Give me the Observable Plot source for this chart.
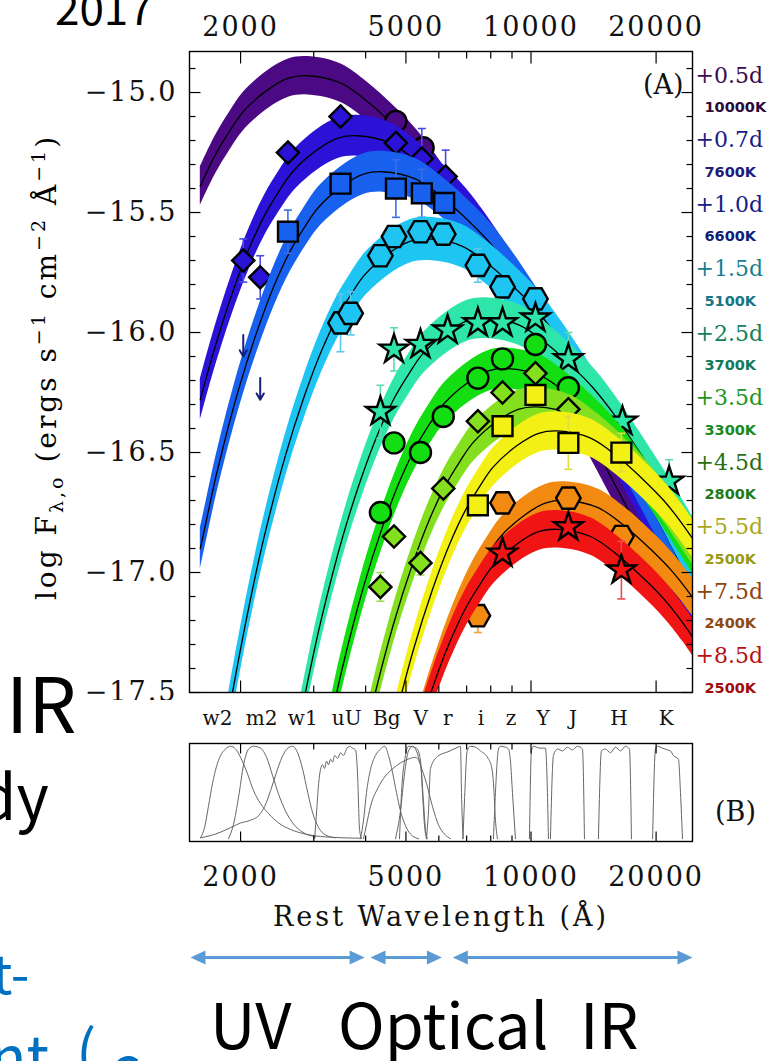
<!DOCTYPE html>
<html>
<head>
<meta charset="utf-8">
<script src="https://cdn.jsdelivr.net/npm/d3@7"></script>
<script src="https://cdn.jsdelivr.net/npm/@observablehq/plot@0.6"></script>
<style>
html,body{margin:0;padding:0;background:#fff;}
body{width:773px;height:1061px;position:relative;overflow:hidden;}
.pane{position:absolute;left:0;}
#panelA{top:0;} #panelB{top:700px;} #panelC{top:942px;}
#deco{position:absolute;left:0;top:0;}
</style>
</head>
<body>
<div id="panelA" class="pane"></div>
<div id="panelB" class="pane"></div>
<div id="panelC" class="pane"></div>
<svg id="deco" width="773" height="1061">
  <text x="55" y="25" font-family="Noto Sans CJK JP" font-size="44" fill="#000">2017</text>
  <text x="6" y="733" font-family="Noto Sans CJK JP" font-size="76" fill="#000">IR</text>
  <text x="-22" y="820" font-family="Noto Sans CJK JP" font-size="62" fill="#000">dy</text>
  <text x="-8" y="994" font-family="Noto Sans CJK JP" font-size="54" fill="#0070c0">t-</text>
  <text x="-10" y="1080" font-family="Noto Sans CJK JP" font-size="60" fill="#0070c0">nt</text>
  <text x="76" y="1074" font-family="Noto Sans CJK JP" font-size="60" fill="#0070c0">(</text>
  <text x="110" y="1090" font-family="Noto Sans CJK JP" font-size="60" fill="#0070c0">c</text>
  <text x="210" y="1049" font-family="Noto Sans CJK JP" font-size="63" fill="#000">UV</text>
  <text x="338" y="1049" font-family="Noto Sans CJK JP" font-size="63" fill="#000">Optical</text>
  <text x="580" y="1049" font-family="Noto Sans CJK JP" font-size="63" fill="#000">IR</text>
  <text transform="translate(56,367) rotate(-90)" text-anchor="middle" font-family="DejaVu Serif" font-size="28" letter-spacing="3" fill="#000">log F<tspan dy="7" font-size="19">λ,o</tspan><tspan dy="-7"> (ergs s</tspan><tspan dy="-11" font-size="19">−1</tspan><tspan dy="11"> cm</tspan><tspan dy="-11" font-size="19">−2</tspan><tspan dy="11"> Å</tspan><tspan dy="-11" font-size="19">−1</tspan><tspan dy="11">)</tspan></text>
</svg>
<script>
// ---------------- scales ----------------
const X_DOMAIN = [1507, 24470];
const Y_DOMAIN = [-17.5, -14.829];

// ---------------- epochs ----------------
const epochs = ["+0.5d","+0.7d","+1.0d","+1.5d","+2.5d","+3.5d","+4.5d","+5.5d","+7.5d","+8.5d"];
const temps  = ["10000K","7600K","6600K","5100K","3700K","3300K","2800K","2500K","2400K","2500K"];
const bandColor = ["#4b0a84","#2a12d6","#1860ee","#1ec4f2","#2ee6aa","#12de12","#84e01e","#f2f014","#f28a12","#f01414"];
const errColor  = ["#6a3aa0","#4a4ae6","#3a70e6","#5ac8ea","#5cdcb0","#5ad85a","#9ada50","#dede40","#f0a040","#f04848"];
const epochLabelColor = ["#3b0b4f","#1b1b85","#12208a","#16808f","#138060","#1e961e","#2a6e14","#a8a820","#8a4610","#b81010"];
const tempLabelColor  = ["#2b0b3b","#1b1b7a","#0f1f75","#157585","#127a5a","#1a8a1a","#1f7a18","#999914","#8f4a10","#a00c0c"];
const bandHalfWidth = [0.08,0.085,0.085,0.09,0.085,0.085,0.08,0.08,0.078,0.078];

// ---------------- fitted curves ----------------
const fitLam = [
  [1600,1739,1884,2029,2318,2608,2898,3478,4057,4637,5216,5796,7245,8694,10143,11592,14490,17388,20286,23184,26082],
  [1600,1716,1907,2097,2288,2478,2669,3050,3432,3813,4576,5338,6101,6863,7626,9533,11439,13346,15252,19065,22878,26691],
  [1600,1647,1756,1976,2196,2415,2635,2854,3074,3513,3952,4391,5269,6147,7026,7904,8782,10978,13173,15369,17564,21955,26346],
  [1705,1847,1989,2131,2273,2557,2841,3125,3409,3693,3977,4546,5114,5682,6818,7955,9091,10228,11364,14205,17046,19887,22728,28410],
  [2545,2741,2937,3133,3524,3916,4308,4699,5091,5482,6266,7049,7832,9398,10965,12531,14098,15664,19580,23496,27412],
  [2854,3074,3293,3513,3952,4391,4830,5269,5708,6147,7026,7904,8782,10538,12295,14051,15808,17564,21955,26346],
  [3364,3623,3881,4140,4658,5175,5693,6210,6728,7245,8280,9315,10350,12420,14490,16560,18630,20700,25875],
  [3767,4057,4347,4637,5216,5796,6376,6955,7535,8114,9274,10433,11592,13910,16229,18547,20866,23184,28980],
  [4226,4528,4830,5434,6038,6641,7245,7849,8453,9660,10868,12075,14490,16905,19320,21735,24150,30188],
  [4347,4637,5216,5796,6376,6955,7535,8114,9274,10433,11592,13910,16229,18547,20866,23184,28980]
];
const fitLogF = [
  [-15.39,-15.26,-15.16,-15.08,-14.99,-14.94,-14.93,-14.96,-15.04,-15.13,-15.22,-15.32,-15.57,-15.79,-15.99,-16.18,-16.50,-16.76,-16.99,-17.12,-17.25],
  [-16.28,-16.09,-15.84,-15.65,-15.51,-15.41,-15.33,-15.24,-15.19,-15.18,-15.21,-15.29,-15.38,-15.47,-15.57,-15.82,-16.04,-16.24,-16.43,-16.75,-17.03,-17.27],
  [-16.90,-16.80,-16.58,-16.24,-15.99,-15.80,-15.66,-15.56,-15.48,-15.39,-15.34,-15.33,-15.36,-15.44,-15.53,-15.62,-15.72,-15.97,-16.19,-16.39,-16.58,-16.90,-17.18],
  [-18.03,-17.65,-17.34,-17.08,-16.86,-16.52,-16.27,-16.08,-15.94,-15.84,-15.76,-15.67,-15.62,-15.61,-15.64,-15.72,-15.81,-15.90,-16.00,-16.25,-16.47,-16.67,-16.86,-17.18],
  [-17.98,-17.67,-17.41,-17.19,-16.85,-16.60,-16.41,-16.27,-16.17,-16.09,-16.00,-15.95,-15.94,-15.97,-16.05,-16.14,-16.23,-16.33,-16.58,-16.80,-17.00],
  [-18.19,-17.88,-17.62,-17.40,-17.06,-16.81,-16.62,-16.48,-16.38,-16.30,-16.21,-16.16,-16.15,-16.18,-16.26,-16.35,-16.44,-16.54,-16.79,-17.01],
  [-18.35,-18.04,-17.78,-17.56,-17.22,-16.97,-16.78,-16.64,-16.54,-16.46,-16.37,-16.32,-16.31,-16.34,-16.42,-16.51,-16.60,-16.70,-16.95],
  [-18.45,-18.14,-17.88,-17.66,-17.32,-17.07,-16.88,-16.74,-16.64,-16.56,-16.47,-16.42,-16.41,-16.44,-16.52,-16.61,-16.70,-16.80,-17.05],
  [-18.43,-18.17,-17.95,-17.61,-17.36,-17.17,-17.03,-16.93,-16.85,-16.76,-16.71,-16.70,-16.73,-16.81,-16.90,-16.99,-17.09,-17.34],
  [-18.29,-18.07,-17.73,-17.48,-17.29,-17.15,-17.05,-16.97,-16.88,-16.83,-16.82,-16.85,-16.93,-17.02,-17.11,-17.21,-17.46]
];

// ---------------- photometry ----------------
const obsEpoch = [0,0, 1,1,1,1,1,1,1, 2,2,2,2,2, 3,3,3,3,3,3,3,3,3, 4,4,4,4,4,4,4,4,4,4, 5,5,5,5,5,5,5,5, 6,6,6,6,6,6,6,6, 7,7,7,7,7, 8,8,8,8, 9,9,9];
const obsLam = [4730,5500,
  2030,2230,2600,3480,4730,5460,6230,
  2600,3480,4730,5460,6180,
  3480,3680,4340,4680,5420,6150,7450,8540,10250,
  4340,4680,5420,6300,7450,8540,10250,12300,16600,21500,
  4340,4680,5420,6150,7450,8540,10250,12300,
  4340,4680,5420,6150,7450,8540,10250,12300,
  7450,8540,10250,12300,16500,
  7450,8540,12300,16500,
  8540,12300,16500];
const obsLogF = [-15.12,-15.23,
  -15.70,-15.77,-15.25,-15.10,-15.21,-15.275,-15.35,
  -15.58,-15.38,-15.40,-15.42,-15.46,
  -15.96,-15.92,-15.68,-15.60,-15.58,-15.59,-15.72,-15.81,-15.86,
  -16.33,-16.07,-16.05,-15.99,-15.96,-15.96,-15.94,-16.11,-16.37,-16.62,
  -16.75,-16.46,-16.50,-16.35,-16.19,-16.11,-16.05,-16.23,
  -17.06,-16.85,-16.96,-16.65,-16.37,-16.25,-16.17,-16.32,
  -16.72,-16.39,-16.26,-16.46,-16.50,
  -17.18,-16.71,-16.69,-16.85,
  -16.92,-16.81,-16.99];
const obsErr = [0,0,
  0.09,0.09,0,0,0,0.125,0.11,
  0.09,0,0.12,0.10,0,
  0.12,0.09,0,0,0,0,0.07,0,0,
  0.11,0.09,0,0,0.05,0,0,0.11,0,0.09,
  0,0,0,0,0,0,0,0,
  0.06,0,0.05,0,0,0,0,0,
  0,0,0,0.11,0.08,
  0.07,0,0,0,
  0,0,0.12];
// upper limits (+1.0d)
const ulLam = [2030, 2230];
const ulTop = [-16.01, -16.19];
const ulBottom = [-16.10, -16.28];

// ---------------- axes ----------------
const xLabelTicks = [2000, 5000, 10000, 20000];
const xMinorTicks = [3000, 4000, 6000, 7000, 8000, 9000];
const yLabelTicks = [-15.0, -15.5, -16.0, -16.5, -17.0, -17.5];

// ---------------- filters (panel B) ----------------
const filterNames = ["w2","m2","w1","uU","Bg","V","r","i","z","Y","J","H","K"];
const filterLabelLam = [1760, 2246, 2822, 3601, 4496, 5429, 6306, 7577, 8946, 10686, 12620, 16288, 21140];
const filtW2 = [[1602,0.01],[1638,0.12],[1674,0.35],[1712,0.6],[1750,0.78],[1790,0.9],[1840,0.97],[1892,1.0],[1945,0.97],[2000,0.88],[2079,0.7],[2149,0.52],[2234,0.38],[2338,0.27],[2470,0.17],[2638,0.1],[2867,0.05],[3203,0.02],[3888,0.005]];
const filtM2 = [[1870,0.0],[1922,0.15],[1978,0.45],[2034,0.8],[2091,0.97],[2149,1.0],[2234,0.98],[2310,0.88],[2389,0.68],[2470,0.48],[2566,0.3],[2681,0.16],[2822,0.07],[3031,0.02]];
const filtW1 = [[1602,0.01],[1741,0.05],[1892,0.12],[2000,0.17],[2114,0.2],[2211,0.25],[2286,0.35],[2362,0.52],[2441,0.72],[2516,0.88],[2597,0.98],[2669,1.0],[2743,0.93],[2822,0.75],[2901,0.5],[2982,0.28],[3083,0.12],[3203,0.04],[3385,0.01]];
const filtU = [[3015,0],[3049,0.3],[3083,0.6],[3115,0.75],[3150,0.8],[3185,0.76],[3220,0.84],[3256,0.8],[3293,0.86],[3330,0.83],[3367,0.9],[3424,0.87],[3480,0.93],[3538,0.9],[3598,0.97],[3658,1.0],[3719,0.98],[3782,0.96],[3824,0.7],[3867,0.1],[3910,0]];
const filtB = [[3888,0],[3953,0.2],[4019,0.5],[4109,0.75],[4224,0.9],[4343,0.97],[4440,1.0],[4540,0.9],[4641,0.72],[4745,0.5],[4851,0.3],[4988,0.14],[5128,0.05],[5360,0]];
const filtG = [[3953,0],[4019,0.15],[4109,0.35],[4283,0.55],[4465,0.68],[4655,0.76],[4851,0.82],[5057,0.86],[5272,0.88],[5420,0.8],[5511,0.4],[5572,0.1],[5634,0]];
const filtVs = [[4825,0],[4880,0.5],[4988,0.9],[5071,1.0],[5300,0.98],[5420,0.85],[5480,0.5],[5541,0.15],[5603,0]];
const filtV = [[4719,0],[4851,0.3],[4960,0.7],[5071,0.95],[5186,1.0],[5300,0.95],[5420,0.8],[5603,0.6],[5792,0.35],[5989,0.15],[6191,0.05],[6400,0]];
const filtR = [[5603,0],[5666,0.3],[5729,0.76],[5956,0.89],[6306,0.94],[6673,0.99],[6765,1.0],[6803,0.5],[6860,0]];
const filtI = [[6860,0],[6930,0.5],[7019,0.95],[7150,1.0],[7351,0.99],[7557,0.95],[7881,0.87],[8032,0.78],[8122,0.6],[8212,0.2],[8304,0]];
const filtZ = [[8122,0],[8212,0.5],[8350,0.97],[8443,1.0],[8680,0.99],[8826,0.97],[8924,0.84],[9023,0.5],[9174,0]];
const filtY = [[9914,0],[10025,0.95],[10137,1.0],[10500,0.98],[10833,0.98],[10953,0.5],[11014,0]];
const filtJ = [[11137,0],[11324,0.9],[11577,0.97],[11903,0.95],[12237,0.99],[12581,0.96],[12935,1.0],[13298,0.97],[13447,0]];
const filtH = [[14530,0],[14775,0.95],[15106,0.97],[15531,0.93],[15967,0.99],[16416,0.95],[16877,1.0],[17254,0.97],[17448,0]];
const filtK = [[19617,0],[19931,0.97],[20153,1.0],[20719,0.98],[21303,0.96],[21659,0.95],[22020,0.9],[22637,0.86],[22893,0.5],[23150,0]];
const filters = [filtW2, filtM2, filtW1, filtU, filtB, filtG, filtVs, filtV, filtR, filtI, filtZ, filtY, filtJ, filtH, filtK];

// wavelength ranges of the slide arrows
const bandRanges = [[1515, 3977], [4109, 6102], [6484, 24470]];

// ---------------- helpers ----------------
const hexSym = {draw(c, s){const R=Math.sqrt(s)*0.66, h=R*Math.sqrt(3)/2;
  c.moveTo(R,0); c.lineTo(R/2,h); c.lineTo(-R/2,h); c.lineTo(-R,0); c.lineTo(-R/2,-h); c.lineTo(R/2,-h); c.closePath();}};
const capSym = {draw(c){c.moveTo(-4,0); c.lineTo(4,0);}};
const seg = (dx, dy) => ({draw(c){c.moveTo(0,0); c.lineTo(dx,dy);}});
const headR = {draw(c){c.moveTo(0,0); c.lineTo(-15,-7); c.lineTo(-15,7); c.closePath();}};
const headL = {draw(c){c.moveTo(0,0); c.lineTo(15,-7); c.lineTo(15,7); c.closePath();}};
const markerSym = ["circle","diamond2","square",hexSym,"star","circle","diamond2","square",hexSym,"star"];
const markerR = [10.5,10,11.2,10.5,9,10.5,10,11.2,10.5,9];
const fmtY = d => d3.format(".1f")(d).replace("-", "\u2212");

function spaceTexts(svg){
  svg.querySelectorAll("text").forEach(t => {
    const s = t.textContent.trim();
    if (/^[\u2212\-\d.]+$/.test(s)) t.setAttribute("letter-spacing", "2");
    else if (s.startsWith("Rest")) t.setAttribute("letter-spacing", "3");
  });
}

// tables
const fitRows = [];
fitLam.forEach((lams, e) => lams.forEach((lam, i) => {
  const m = fitLogF[e][i];
  fitRows.push({e, lam, mid: m, lo: m - bandHalfWidth[e], hi: m + bandHalfWidth[e]});
}));
const obsRows = obsLam.map((lam, i) => ({e: obsEpoch[i], lam, y: obsLogF[i], err: obsErr[i]}));
const ulRows = ulLam.map((lam, i) => ({lam, y1: ulTop[i], y2: ulBottom[i]}));

const sideLabels = [];
epochs.forEach((t, i) => {
  sideLabels.push({text: t, k: 2*i, color: epochLabelColor[i], temp: false});
  sideLabels.push({text: temps[i], k: 2*i+1, color: tempLabelColor[i], temp: true});
});
const sideY = d => -14.929 - d.k * 0.1344;

// ---------------- panel A ----------------
const marksA = [];
for (let e = 0; e < epochs.length; e++) {
  const rows = fitRows.filter(d => d.e === e);
  marksA.push(Plot.areaY(rows, {x: "lam", y1: "lo", y2: "hi", fill: bandColor[e], curve: "catmull-rom", clip: true}));
  marksA.push(Plot.line(rows, {x: "lam", y: "mid", stroke: "#000", strokeWidth: 1.3, curve: "catmull-rom", clip: true}));
  const obs = obsRows.filter(d => d.e === e);
  const eb = obs.filter(d => d.err > 0);
  marksA.push(Plot.ruleX(eb, {x: "lam", y1: d => d.y - d.err, y2: d => d.y + d.err, stroke: errColor[e], strokeWidth: 1.6}));
  marksA.push(Plot.dot(eb, {x: "lam", y: d => d.y - d.err, symbol: capSym, fill: "none", stroke: errColor[e], strokeWidth: 1.6}));
  marksA.push(Plot.dot(eb, {x: "lam", y: d => d.y + d.err, symbol: capSym, fill: "none", stroke: errColor[e], strokeWidth: 1.6}));
  if (e === 2) marksA.push(Plot.arrow(ulRows, {x: "lam", y1: "y1", y2: "y2", stroke: "#14207a", strokeWidth: 2, headLength: 7}));
  marksA.push(Plot.dot(obs, {x: "lam", y: "y", symbol: markerSym[e], r: markerR[e], fill: bandColor[e], stroke: "#000", strokeWidth: 2.4}));
}
const yMinor = d3.range(-17.4, -14.85, 0.1).map(v => Math.round(v*10)/10).filter(v => Math.abs(v*2 - Math.round(v*2)) > 1e-6);
marksA.push(
  Plot.frame({stroke: "#000", strokeWidth: 1.4}),
  Plot.dot(yLabelTicks, {y: d => d, frameAnchor: "left", symbol: seg(11,0), fill: "none", stroke: "#000", strokeWidth: 1.2}),
  Plot.dot(yMinor, {y: d => d, frameAnchor: "left", symbol: seg(6,0), fill: "none", stroke: "#000", strokeWidth: 1.2}),
  Plot.dot(yLabelTicks, {y: d => d, frameAnchor: "right", symbol: seg(-11,0), fill: "none", stroke: "#000", strokeWidth: 1.2}),
  Plot.dot(yMinor, {y: d => d, frameAnchor: "right", symbol: seg(-6,0), fill: "none", stroke: "#000", strokeWidth: 1.2}),
  Plot.dot(xLabelTicks, {x: d => d, frameAnchor: "top", symbol: seg(0,12), fill: "none", stroke: "#000", strokeWidth: 1.2}),
  Plot.dot(xMinorTicks, {x: d => d, frameAnchor: "top", symbol: seg(0,7), fill: "none", stroke: "#000", strokeWidth: 1.2}),
  Plot.dot(xLabelTicks, {x: d => d, frameAnchor: "bottom", symbol: seg(0,-12), fill: "none", stroke: "#000", strokeWidth: 1.2}),
  Plot.dot(xMinorTicks, {x: d => d, frameAnchor: "bottom", symbol: seg(0,-7), fill: "none", stroke: "#000", strokeWidth: 1.2}),
  Plot.axisY({anchor: "left", ticks: yLabelTicks, tickSize: 0, tickPadding: 12, tickFormat: fmtY, label: null, fontSize: 27, fontFamily: "DejaVu Serif", fill: "#111"}),
  Plot.axisX({anchor: "top", ticks: xLabelTicks, tickSize: 0, tickPadding: 16, tickFormat: d => String(d), label: null, fontSize: 27, fontFamily: "DejaVu Serif", fill: "#111"}),
  Plot.text(["(A)"], {frameAnchor: "top-right", dx: -9, dy: 34, textAnchor: "end", lineAnchor: "middle", fontSize: 27, fontFamily: "DejaVu Serif", fill: "#111"}),
  Plot.text(sideLabels.filter(d => !d.temp), {y: sideY, text: "text", fill: "color", frameAnchor: "right", dx: 3, textAnchor: "start", lineAnchor: "middle", fontSize: 22, fontFamily: "DejaVu Serif"}),
  Plot.text(sideLabels.filter(d => d.temp), {y: sideY, text: "text", fill: "color", frameAnchor: "right", dx: 12, textAnchor: "start", lineAnchor: "middle", fontSize: 14.5, fontWeight: "bold", fontFamily: "DejaVu Sans"})
);

const plotA = Plot.plot({
  width: 773, height: 700,
  marginTop: 51, marginLeft: 189, marginRight: 81, marginBottom: 8,
  x: {type: "log", domain: X_DOMAIN, axis: null},
  y: {domain: Y_DOMAIN, axis: null},
  style: {background: "#fff", overflow: "visible"},
  marks: marksA
});
spaceTexts(plotA);
document.getElementById("panelA").appendChild(plotA);

// ---------------- panel B ----------------
const marksB = filters.map(f => Plot.line(f, {x: d => d[0], y: d => d[1], stroke: "#666", strokeWidth: 1, curve: "monotone-x"}));
marksB.push(
  Plot.frame({stroke: "#000", strokeWidth: 1.4}),
  Plot.dot(xLabelTicks, {x: d => d, frameAnchor: "top", symbol: seg(0,10), fill: "none", stroke: "#000", strokeWidth: 1.2}),
  Plot.dot(xMinorTicks, {x: d => d, frameAnchor: "top", symbol: seg(0,6), fill: "none", stroke: "#000", strokeWidth: 1.2}),
  Plot.dot(xLabelTicks, {x: d => d, frameAnchor: "bottom", symbol: seg(0,-10), fill: "none", stroke: "#000", strokeWidth: 1.2}),
  Plot.dot(xMinorTicks, {x: d => d, frameAnchor: "bottom", symbol: seg(0,-6), fill: "none", stroke: "#000", strokeWidth: 1.2}),
  Plot.axisX({anchor: "bottom", ticks: xLabelTicks, tickSize: 0, tickPadding: 25, tickFormat: d => String(d), label: null, fontSize: 27, fontFamily: "DejaVu Serif", fill: "#111"}),
  Plot.text(filterNames, {x: filterLabelLam, text: d => d, frameAnchor: "top", dy: -25, lineAnchor: "middle", fontSize: 20, fontFamily: "DejaVu Serif", fill: "#111"}),
  Plot.text(["Rest Wavelength (Å)"], {frameAnchor: "bottom", dy: 76, lineAnchor: "middle", fontSize: 27, fontFamily: "DejaVu Serif", fill: "#111"}),
  Plot.text(["(B)"], {frameAnchor: "right", dx: 43, dy: 20, textAnchor: "middle", lineAnchor: "middle", fontSize: 27, fontFamily: "DejaVu Serif", fill: "#111"})
);
const plotB = Plot.plot({
  width: 773, height: 240,
  marginTop: 43, marginLeft: 189, marginRight: 81, marginBottom: 99,
  x: {type: "log", domain: X_DOMAIN, axis: null},
  y: {domain: [-0.03, 1.03], axis: null},
  style: {background: "#fff", overflow: "visible"},
  marks: marksB
});
spaceTexts(plotB);
document.getElementById("panelB").appendChild(plotB);

// ---------------- panel C (UV / optical / IR arrows) ----------------
const plotC = Plot.plot({
  width: 773, height: 30,
  marginTop: 0, marginLeft: 189, marginRight: 81, marginBottom: 0,
  x: {type: "log", domain: X_DOMAIN, axis: null},
  y: {domain: [0, 1], axis: null},
  style: {background: "transparent", overflow: "visible"},
  marks: [
    Plot.link(bandRanges, {x1: d => d[0] * 1.02, x2: d => d[1] / 1.02, y1: () => 0.5, y2: () => 0.5, stroke: "#5b9bd5", strokeWidth: 3}),
    Plot.dot(bandRanges, {x: d => d[1], y: () => 0.5, symbol: headR, fill: "#5b9bd5", stroke: "none"}),
    Plot.dot(bandRanges, {x: d => d[0], y: () => 0.5, symbol: headL, fill: "#5b9bd5", stroke: "none"})
  ]
});
document.getElementById("panelC").appendChild(plotC);
</script>
</body>
</html>
